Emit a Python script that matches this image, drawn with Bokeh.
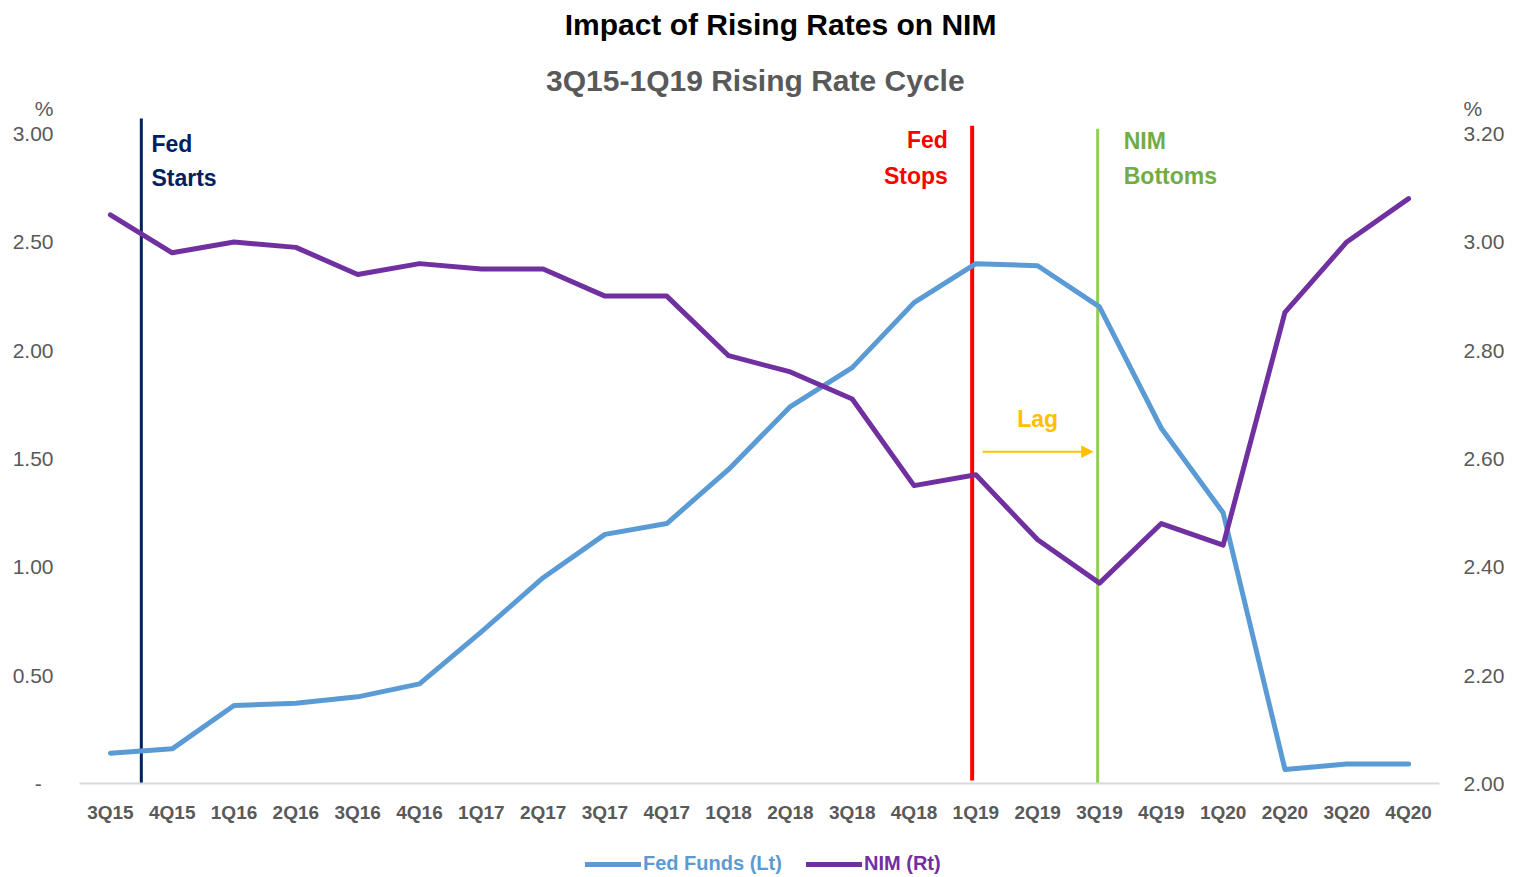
from bokeh.plotting import figure
from bokeh.layouts import column
from bokeh.models import (Range1d, LinearAxis, FixedTicker, NumeralTickFormatter, Title,
                          Legend, LegendItem, Arrow, NormalHead)
from bokeh.core.properties import value
from bokeh.embed import file_html
from bokeh.resources import INLINE

# ---------------- data ----------------
quarters = ["3Q15", "4Q15", "1Q16", "2Q16", "3Q16", "4Q16", "1Q17", "2Q17", "3Q17", "4Q17",
            "1Q18", "2Q18", "3Q18", "4Q18", "1Q19", "2Q19", "3Q19", "4Q19", "1Q20", "2Q20",
            "3Q20", "4Q20"]
fed_funds = [0.14, 0.16, 0.36, 0.37, 0.40, 0.46, 0.70, 0.95, 1.15, 1.20,
             1.45, 1.74, 1.92, 2.22, 2.40, 2.39, 2.20, 1.64, 1.25, 0.065,
             0.09, 0.09]
nim = [3.05, 2.98, 3.00, 2.99, 2.94, 2.96, 2.95, 2.95, 2.90, 2.90,
       2.79, 2.76, 2.71, 2.55, 2.57, 2.45, 2.37, 2.48, 2.44, 2.87,
       3.00, 3.08]
left_ticks = [0, 0.5, 1.0, 1.5, 2.0, 2.5, 3.0]
right_ticks = [2.0, 2.2, 2.4, 2.6, 2.8, 3.0, 3.2]

FONT = "Liberation Sans"
GRAY = "#595959"
BLUE = "#5B9BD5"
PURPLE = "#7030A0"
NAVY = "#002060"
RED = "#FF0000"
GREEN_LINE = "#92D050"
GREEN_TEXT = "#70AD47"
GOLD = "#FFC000"

x = list(range(len(quarters)))
LEFT_TOP = 3.13
RIGHT_TOP = 2.0 + LEFT_TOP * 0.4
PCT_L = 3.115
PCT_R = 2.0 + PCT_L * 0.4
XR = (-0.5, len(quarters) - 0.5)

# ---------------- main title strip ----------------
tf = figure(width=1505, height=53, frame_width=1360, frame_height=53,
            output_backend="svg", toolbar_location=None,
            x_range=Range1d(*XR), y_range=Range1d(0, 53),
            x_axis_location=None, y_axis_location=None,
            min_border_left=79, min_border_right=66, min_border_top=0, min_border_bottom=0)
tf.outline_line_color = None
tf.xgrid.grid_line_color = None
tf.ygrid.grid_line_color = None
tf.text(x=[10.84], y=[29], text=["Impact of Rising Rates on NIM"], text_color="black",
        text_font=value(FONT), text_font_size="30px", text_font_style="bold",
        text_align="center", text_baseline="middle")

# ---------------- main chart ----------------
p = figure(width=1505, height=775, frame_width=1360, frame_height=678,
           output_backend="svg", toolbar_location=None,
           x_range=Range1d(*XR), y_range=Range1d(0, LEFT_TOP),
           min_border_left=79, min_border_right=66, min_border_top=52, min_border_bottom=45,
           y_axis_location=None)
p.outline_line_color = None
p.xgrid.grid_line_color = None
p.ygrid.grid_line_color = None
p.extra_y_ranges = {"right": Range1d(2.0, RIGHT_TOP)}

p.add_layout(Title(text="3Q15-1Q19  Rising Rate Cycle", align="center", text_font=FONT,
                   text_font_size="30px", text_font_style="bold", text_color=GRAY,
                   standoff=17), "above")

# x axis
xa = p.xaxis[0]
xa.ticker = FixedTicker(ticks=x)
xa.major_label_overrides = {i: q for i, q in enumerate(quarters)}
xa.major_tick_line_color = None
xa.minor_tick_line_color = None
xa.major_tick_out = 0
xa.major_tick_in = 0
xa.axis_line_color = "#D9D9D9"
xa.axis_line_width = 2
xa.major_label_text_font = FONT
xa.major_label_text_font_size = "19px"
xa.major_label_text_font_style = "bold"
xa.major_label_text_color = GRAY
xa.major_label_standoff = 18

# left / right axes
la = LinearAxis(ticker=FixedTicker(ticks=left_ticks + [PCT_L]),
                formatter=NumeralTickFormatter(format="0.00"))
la.major_label_overrides = {0: "-\u00a0\u00a0", PCT_L: "%"}
p.add_layout(la, "left")

ra = LinearAxis(y_range_name="right", ticker=FixedTicker(ticks=right_ticks + [PCT_R]),
                formatter=NumeralTickFormatter(format="0.00"))
ra.major_label_overrides = {PCT_R: "%"}
p.add_layout(ra, "right")

for ax in [la, ra]:
    ax.axis_line_color = None
    ax.major_tick_line_color = None
    ax.minor_tick_line_color = None
    ax.major_tick_out = 0
    ax.major_tick_in = 0
    ax.major_label_text_font = FONT
    ax.major_label_text_font_size = "21px"
    ax.major_label_text_color = GRAY
la.major_label_standoff = 26
ra.major_label_standoff = 24

# vertical event lines
p.segment(x0=[0.5], y0=[0], x1=[0.5], y1=[3.07], line_color=NAVY, line_width=3)
i_stop = quarters.index("1Q19") - 0.06
i_bottom = quarters.index("3Q19") - 0.03
p.segment(x0=[i_stop], y0=[0.014], x1=[i_stop], y1=[3.037], line_color=RED, line_width=4)
p.segment(x0=[i_bottom], y0=[-0.01], x1=[i_bottom], y1=[3.023], line_color=GREEN_LINE, line_width=3)

# series
r_ff = p.line(x, fed_funds, line_color=BLUE, line_width=5, line_join="round", line_cap="round")
r_nim = p.line(x, nim, y_range_name="right", line_color=PURPLE, line_width=5,
               line_join="round", line_cap="round")

# annotation texts
def txt(xs, ys, texts, color, align):
    p.text(x=xs, y=ys, text=texts, text_color=color, text_font=value(FONT),
           text_font_size="23px", text_font_style="bold", text_align=align,
           text_baseline="middle")

txt([0.663, 0.663], [2.954, 2.797], ["Fed", "Starts"], NAVY, "left")
txt([13.547, 13.547], [2.972, 2.806], ["Fed", "Stops"], RED, "right")
txt([16.392, 16.392], [2.968, 2.806], ["NIM", "Bottoms"], GREEN_TEXT, "left")
txt([15.0], [1.685], ["Lag"], GOLD, "center")

p.add_layout(Arrow(x_start=14.11, y_start=1.532, x_end=15.89, y_end=1.532,
                   line_color=GOLD, line_width=2,
                   end=NormalHead(size=11, fill_color=GOLD, line_color=GOLD)))

# ---------------- legend strip ----------------
lg = figure(width=1505, height=49, output_backend="svg", toolbar_location=None,
            x_range=Range1d(0, 1), y_range=Range1d(0, 1),
            x_axis_location=None, y_axis_location=None,
            min_border_left=0, min_border_right=0, min_border_top=0, min_border_bottom=0)
lg.outline_line_color = None
lg.xgrid.grid_line_color = None
lg.ygrid.grid_line_color = None
# legend proxies placed outside the visible range (only their legend glyphs show)
d_ff = lg.line([5, 6], [5, 6], line_color=BLUE, line_width=5, line_cap="round")
d_nim = lg.line([5, 6], [5, 6], line_color=PURPLE, line_width=5, line_cap="round")


def mk_legend(renderer, label, color, xloc):
    leg = Legend(items=[LegendItem(label=label, renderers=[renderer])],
                 location=(xloc, 2), orientation="horizontal",
                 label_text_font=FONT, label_text_font_size="20px",
                 label_text_font_style="bold", label_text_color=color,
                 glyph_width=56, glyph_height=22, label_height=22, label_standoff=2,
                 padding=0, margin=0, spacing=0, border_line_color=None,
                 background_fill_alpha=0)
    lg.add_layout(leg, "center")


mk_legend(d_ff, "Fed Funds (Lt)", BLUE, 506)
mk_legend(d_nim, "NIM (Rt)", PURPLE, 727)

layout = column(tf, p, lg, spacing=0)
open("out.html", "w").write(file_html(layout, INLINE))
